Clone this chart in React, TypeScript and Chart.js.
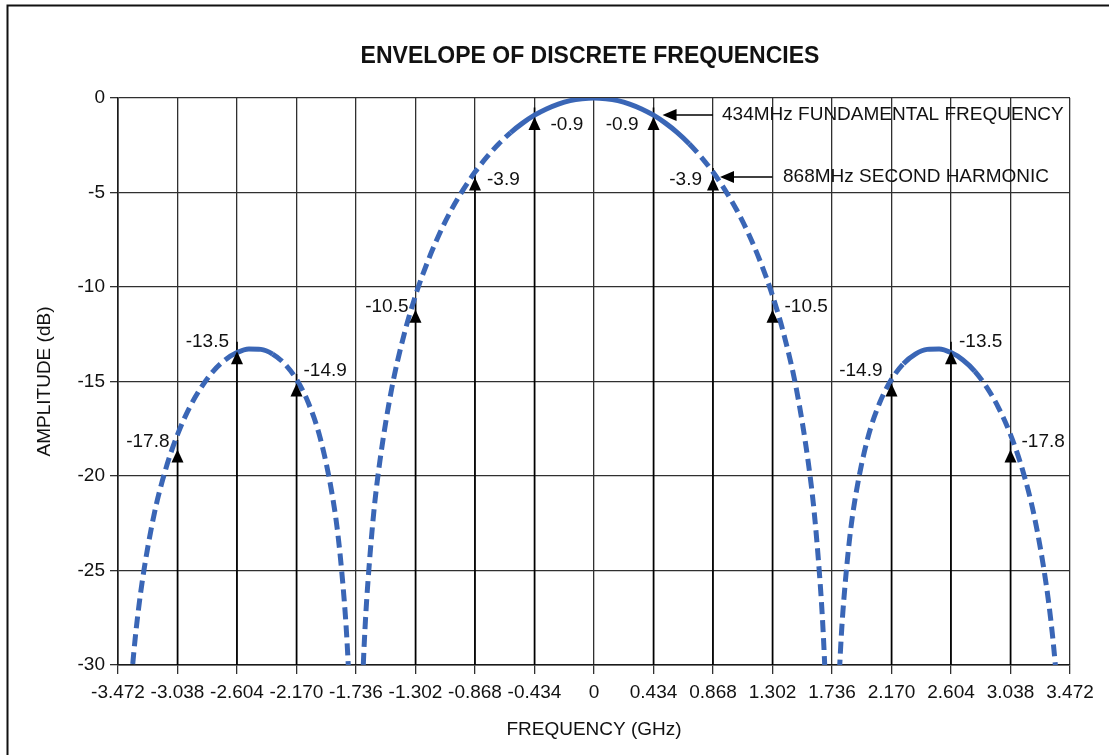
import React, { useEffect, useRef } from 'react';
import { Chart, registerables } from 'chart.js';

Chart.register(...registerables);

// ---------- text ----------
const chartTitle = 'ENVELOPE OF DISCRETE FREQUENCIES';
const xAxisTitle = 'FREQUENCY (GHz)';
const yAxisTitle = 'AMPLITUDE (dB)';

// ---------- axes ----------
const xTickValues = [-3.472, -3.038, -2.604, -2.17, -1.736, -1.302, -0.868, -0.434, 0, 0.434, 0.868, 1.302, 1.736, 2.17, 2.604, 3.038, 3.472];
const xTickLabels = ['-3.472', '-3.038', '-2.604', '-2.170', '-1.736', '-1.302', '-0.868', '-0.434', '0', '0.434', '0.868', '1.302', '1.736', '2.170', '2.604', '3.038', '3.472'];
const yTickValues = [0, -5, -10, -15, -20, -25, -30];
const yTickLabels = ['0', '-5', '-10', '-15', '-20', '-25', '-30'];

// ---------- envelope (dashed blue curve), null = break between lobes ----------
const envelopeFreq = [
  -3.385, -3.368, -3.342, -3.298, -3.212, -3.125, -3.038, -2.951, -2.864, -2.778, -2.691, -2.604, -2.517,
  -2.43, -2.344, -2.257, -2.17, -2.083, -1.996, -1.91, -1.866, -1.823, -1.805, -1.788, -1.771,
  -1.736,
  -1.701, -1.684, -1.667, -1.649, -1.606, -1.562, -1.476, -1.389, -1.302, -1.215, -1.128, -1.042, -0.955,
  -0.868, -0.781, -0.694, -0.608, -0.521, -0.434, -0.347, -0.26, -0.174, -0.087, 0,
  0.087, 0.174, 0.26, 0.347, 0.434, 0.521, 0.608, 0.694, 0.781, 0.868, 0.955, 1.042, 1.128, 1.215, 1.302,
  1.389, 1.476, 1.562, 1.606, 1.649, 1.667, 1.684, 1.701,
  1.736,
  1.771, 1.788, 1.805, 1.823, 1.866, 1.91, 1.996, 2.083, 2.17, 2.257, 2.344, 2.43, 2.517, 2.604, 2.691,
  2.778, 2.864, 2.951, 3.038, 3.125, 3.212, 3.298, 3.342, 3.368, 3.385,
];
const envelopeDb = [
  -31.86, -30.25, -28.27, -25.72, -22.15, -19.66, -17.81, -16.39, -15.3, -14.46, -13.86, -13.47, -13.28,
  -13.3, -13.55, -14.06, -14.89, -16.14, -18.02, -20.97, -23.21, -26.48, -28.32, -30.73, -34.16,
  null,
  -33.81, -30.21, -27.63, -25.61, -21.9, -19.23, -15.39, -12.62, -10.45, -8.69, -7.2, -5.94, -4.86,
  -3.92, -3.12, -2.42, -1.83, -1.33, -0.91, -0.58, -0.32, -0.14, -0.04, 0,
  -0.04, -0.14, -0.32, -0.58, -0.91, -1.33, -1.83, -2.42, -3.12, -3.92, -4.86, -5.94, -7.2, -8.69, -10.45,
  -12.62, -15.39, -19.23, -21.9, -25.61, -27.63, -30.21, -33.81,
  null,
  -34.16, -30.73, -28.32, -26.48, -23.21, -20.97, -18.02, -16.14, -14.89, -14.06, -13.55, -13.3, -13.28,
  -13.47, -13.86, -14.46, -15.3, -16.39, -17.81, -19.66, -22.15, -25.72, -28.27, -30.25, -31.86,
];

// ---------- discrete harmonics (arrows) ----------
const harmonicFreq = [-3.038, -2.604, -2.17, -1.302, -0.868, -0.434, 0.434, 0.868, 1.302, 2.17, 2.604, 3.038];
const harmonicTipDb = [-18.6, -13.4, -15.1, -11.2, -4.2, -1.0, -1.0, -4.2, -11.2, -15.1, -13.4, -18.6];
const harmonicLabels = ['-17.8', '-13.5', '-14.9', '-10.5', '-3.9', '-0.9', '-0.9', '-3.9', '-10.5', '-14.9', '-13.5', '-17.8'];
const arrowBaseDb = -30;

// ---------- callouts ----------
const calloutTexts = ['434MHz FUNDAMENTAL FREQUENCY', '868MHz SECOND HARMONIC'];
const calloutDb = [-0.9, -4.18];
const calloutTipFreq = [0.5, 0.919];
const calloutTailFreq = [0.868, 1.302];
const calloutTextFreq = [0.934, 1.379];

// ---------- styling / layout (not data) ----------
const BLUE = '#3a66b6';
const TEXT = '#111111';
const GRID = '#303030';
const FONT = "'Liberation Sans', Arial, Helvetica, sans-serif";
const FS = 19;
const solidRanges = [[-2.7, -2.27], [-0.64, 0.72], [2.23, 2.84]];
const labelLayout = [
  { dx: -8, dy: -7.5, align: 'right' },
  { dx: -8, dy: -9, align: 'right' },
  { dx: 7, dy: -13, align: 'left' },
  { dx: -7, dy: -3, align: 'right' },
  { dx: 12, dy: 2, align: 'left' },
  { dx: 16, dy: 8, align: 'left' },
  { dx: -15, dy: 8, align: 'right' },
  { dx: -11, dy: 2, align: 'right' },
  { dx: 12, dy: -3, align: 'left' },
  { dx: -9, dy: -13, align: 'right' },
  { dx: 8, dy: -9, align: 'left' },
  { dx: 11, dy: -7.5, align: 'left' },
];

function inSolid(a: number, b: number) {
  return solidRanges.some(([lo, hi]) => a >= lo && b <= hi);
}

const decorPlugin = {
  id: 'decor',
  beforeDraw(chart: any) {
    const { ctx } = chart;
    ctx.save();
    ctx.fillStyle = '#ffffff';
    ctx.fillRect(0, 0, chart.width, chart.height);
    ctx.strokeStyle = '#111';
    ctx.lineWidth = 2;
    ctx.beginPath();
    ctx.moveTo(7.5, chart.height);
    ctx.lineTo(7.5, 5.5);
    ctx.lineTo(chart.width, 5.5);
    ctx.stroke();
    ctx.restore();
  },
  afterDatasetsDraw(chart: any) {
    const { ctx } = chart;
    const xs = chart.scales.x;
    const ys = chart.scales.y;
    ctx.save();
    ctx.font = `${FS}px ${FONT}`;
    ctx.textBaseline = 'middle';
    harmonicFreq.forEach((f, i) => {
      const px = xs.getPixelForValue(f);
      const py = ys.getPixelForValue(harmonicTipDb[i]);
      ctx.fillStyle = '#000';
      ctx.beginPath();
      ctx.moveTo(px, py);
      ctx.lineTo(px - 6, py + 13);
      ctx.lineTo(px + 6, py + 13);
      ctx.closePath();
      ctx.fill();
      const o = labelLayout[i];
      ctx.fillStyle = TEXT;
      ctx.textAlign = o.align as CanvasTextAlign;
      ctx.fillText(harmonicLabels[i], px + o.dx, py + o.dy);
    });
    calloutTexts.forEach((t, i) => {
      const py = ys.getPixelForValue(calloutDb[i]);
      const tip = xs.getPixelForValue(calloutTipFreq[i]);
      const tail = xs.getPixelForValue(calloutTailFreq[i]);
      const tx = xs.getPixelForValue(calloutTextFreq[i]);
      ctx.strokeStyle = '#000';
      ctx.lineWidth = 1.5;
      ctx.beginPath();
      ctx.moveTo(tip + 12, py);
      ctx.lineTo(tail, py);
      ctx.stroke();
      ctx.fillStyle = '#000';
      ctx.beginPath();
      ctx.moveTo(tip, py);
      ctx.lineTo(tip + 14, py - 6);
      ctx.lineTo(tip + 14, py + 6);
      ctx.closePath();
      ctx.fill();
      ctx.fillStyle = TEXT;
      ctx.textAlign = 'left';
      ctx.fillText(t, tx, py);
    });
    ctx.restore();
  },
  afterDraw(chart: any) {
    const { ctx, chartArea } = chart;
    ctx.save();
    ctx.fillStyle = TEXT;
    ctx.font = `bold 23px ${FONT}`;
    ctx.textAlign = 'center';
    ctx.textBaseline = 'middle';
    ctx.fillText(chartTitle, (chartArea.left + chartArea.right) / 2 - 4, 57);
    ctx.restore();
  },
};

export default function App() {
  const ref = useRef<HTMLCanvasElement | null>(null);

  useEffect(() => {
    if (!ref.current) return;
    Chart.defaults.font.family = FONT;
    Chart.defaults.color = TEXT;

    const envelopeData = envelopeFreq.map((f, i) => ({ x: f, y: envelopeDb[i] }));
    const shaftData: any[] = [];
    harmonicFreq.forEach((f, i) => {
      shaftData.push({ x: f, y: arrowBaseDb });
      shaftData.push({ x: f, y: harmonicTipDb[i] + 0.5 });
      shaftData.push({ x: f, y: null });
    });

    const chart = new Chart(ref.current, {
      type: 'line',
      data: {
        datasets: [
          {
            label: 'Envelope',
            data: envelopeData,
            borderColor: BLUE,
            borderWidth: 5,
            pointRadius: 0,
            spanGaps: false,
            cubicInterpolationMode: 'monotone',
            borderDash: [12, 6],
            borderCapStyle: 'butt',
            clip: 0,
            order: 0,
            segment: {
              borderDash: (c: any) => (inSolid(c.p0.parsed.x, c.p1.parsed.x) ? [] : [12, 6]),
            },
          } as any,
          {
            label: 'Harmonics',
            data: shaftData,
            borderColor: '#000',
            borderWidth: 1.6,
            pointRadius: 0,
            spanGaps: false,
            tension: 0,
            order: 1,
          } as any,
        ],
      },
      options: {
        animation: false,
        responsive: true,
        maintainAspectRatio: false,
        events: [],
        layout: { padding: { top: 98, right: 39, bottom: 0, left: 0 } },
        plugins: {
          legend: { display: false },
          tooltip: { enabled: false },
          title: { display: false },
        },
        scales: {
          x: {
            type: 'linear',
            min: xTickValues[0],
            max: xTickValues[xTickValues.length - 1],
            afterBuildTicks: (scale: any) => {
              scale.ticks = xTickValues.map((v) => ({ value: v }));
            },
            afterFit: (scale: any) => {
              scale.height = 90;
            },
            ticks: {
              autoSkip: false,
              maxRotation: 0,
              minRotation: 0,
              padding: 7,
              font: { size: FS },
              color: TEXT,
              callback: (_v: any, i: number) => xTickLabels[i],
            },
            grid: { color: GRID, lineWidth: 1.3, tickLength: 9, tickColor: GRID },
            border: { color: '#1a1a1a', width: 1.6 },
            title: {
              display: true,
              text: xAxisTitle,
              font: { size: FS, lineHeight: 1.2 },
              color: TEXT,
              padding: { top: 0, bottom: 14 },
            },
          },
          y: {
            type: 'linear',
            min: -30,
            max: 0,
            afterBuildTicks: (scale: any) => {
              scale.ticks = yTickValues.map((v) => ({ value: v }));
            },
            afterFit: (scale: any) => {
              scale.width = 118;
            },
            ticks: {
              padding: 5,
              font: { size: FS },
              color: TEXT,
              callback: (_v: any, i: number) => yTickLabels[i],
            },
            grid: { color: GRID, lineWidth: 1.3, tickLength: 8, tickColor: GRID },
            border: { color: '#1a1a1a', width: 1.6 },
            title: {
              display: true,
              text: yAxisTitle,
              font: { size: FS, lineHeight: 1.2 },
              color: TEXT,
              padding: { top: 33, bottom: 0 },
            },
          },
        },
      },
      plugins: [decorPlugin],
    });

    return () => chart.destroy();
  }, []);

  return (
    <div style={{ position: 'absolute', left: 0, top: 0, width: 1109, height: 755 }}>
      <canvas ref={ref} />
    </div>
  );
}
